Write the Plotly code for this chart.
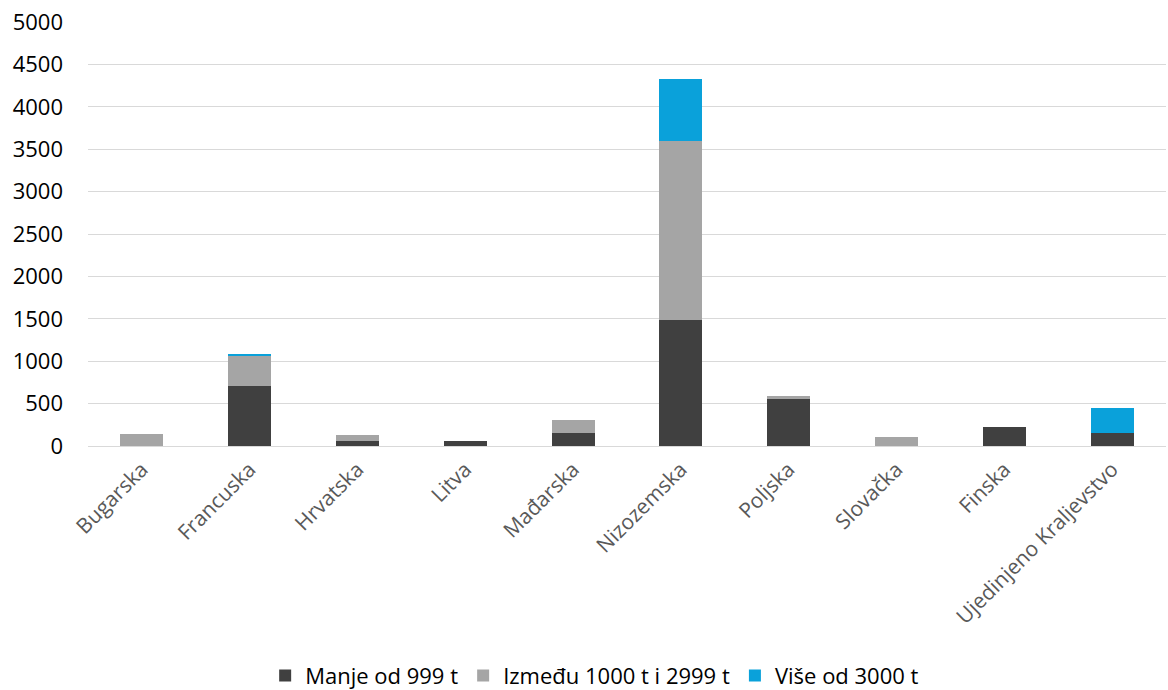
import plotly.graph_objects as go

countries = ["Bugarska", "Francuska", "Hrvatska", "Litva", "Mađarska",
             "Nizozemska", "Poljska", "Slovačka", "Finska", "Ujedinjeno Kraljevstvo"]
manje_999 = [0, 710, 60, 60, 155, 1490, 550, 0, 230, 155]
izmedju_1000_2999 = [145, 355, 70, 0, 155, 2110, 45, 105, 0, 0]
vise_3000 = [0, 15, 0, 0, 0, 730, 0, 0, 0, 290]

series = [
    ("Manje od 999 t", manje_999, "#404040"),
    ("Između 1000 t i 2999 t", izmedju_1000_2999, "#a5a5a5"),
    ("Više od 3000 t", vise_3000, "#0aa1da"),
]

fig = go.Figure()
for name, vals, color in series:
    fig.add_trace(go.Bar(x=countries, y=vals, name=name, marker_color=color,
                         marker_line_width=0))

font = dict(family="Open Sans, sans-serif", size=22, color="#000000")
fig.update_layout(
    barmode="stack",
    bargap=0.6,
    width=1168, height=690,
    margin=dict(l=88, r=2, t=22, b=244, autoexpand=False),
    paper_bgcolor="white", plot_bgcolor="white",
    font=font,
    showlegend=True,
    legend=dict(orientation="h", x=0.47, xanchor="center", y=-0.492, yanchor="top",
                font=dict(family="Open Sans, sans-serif", size=22),
                itemwidth=30, traceorder="normal", tracegroupgap=0),
)
fig.update_yaxes(range=[0, 5000], dtick=500, showgrid=True, gridcolor="#d9d9d9",
                 gridwidth=1.3, zeroline=True, zerolinecolor="#d9d9d9", zerolinewidth=1.3,
                 tickfont=font, ticks="", ticklabelstandoff=24, automargin=False)
fig.update_xaxes(tickangle=-45, tickfont=dict(family="Open Sans, sans-serif", size=21,
                 color="#595959"), showline=False, ticks="", automargin=False,
                 ticklabelstandoff=6)

fig.write_html("out.html")
